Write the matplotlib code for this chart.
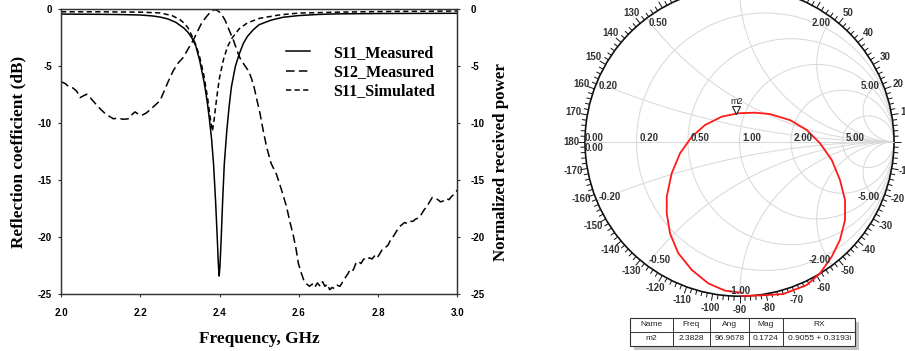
import numpy as np
import matplotlib
matplotlib.use("Agg")
import matplotlib.pyplot as plt
from matplotlib.patches import Circle, Rectangle
from matplotlib.collections import LineCollection
from matplotlib.transforms import offset_copy

plt.rcParams['axes.unicode_minus'] = False

# ---- left panel data ----
f_s11m = [2.00, 2.05, 2.10, 2.15, 2.20, 2.23, 2.25, 2.27, 2.29, 2.31, 2.32, 2.33, 2.34,
          2.35, 2.36, 2.365, 2.37, 2.375, 2.38, 2.385, 2.39, 2.394, 2.397, 2.399, 2.401,
          2.404, 2.408, 2.412, 2.418, 2.424, 2.43, 2.44, 2.45, 2.46, 2.47, 2.485, 2.50,
          2.53, 2.56, 2.60, 2.65, 2.70, 2.80, 2.90, 3.00]
s11_meas = [-0.42, -0.43, -0.44, -0.46, -0.5, -0.58, -0.68, -0.85, -1.15, -1.65, -2.0,
            -2.5, -3.2, -4.5, -6.2, -7.2, -8.4, -9.8, -11.4, -13.6, -16.8, -19.8, -22.3,
            -23.4, -22.6, -20.3, -16.7, -13.6, -10.8, -8.6, -6.8, -5.0, -3.9, -3.0, -2.4,
            -1.8, -1.35, -0.95, -0.7, -0.55, -0.45, -0.4, -0.37, -0.36, -0.35]

f_s11s = [2.00, 2.10, 2.20, 2.25, 2.28, 2.30, 2.31, 2.32, 2.33, 2.34, 2.35, 2.36, 2.37,
          2.376, 2.382, 2.386, 2.39, 2.395, 2.40, 2.41, 2.42, 2.43, 2.45, 2.47, 2.50,
          2.55, 2.60, 2.70, 2.80, 3.00]
s11_sim = [-0.22, -0.22, -0.25, -0.32, -0.55, -0.9, -1.2, -1.6, -2.3, -3.1, -4.2, -5.7,
           -7.8, -9.4, -10.7, -9.8, -8.6, -7.2, -6.0, -4.4, -3.3, -2.6, -1.7, -1.2, -0.8,
           -0.5, -0.33, -0.25, -0.2, -0.15]

f_s12m = [2.000, 2.010, 2.020, 2.030, 2.040, 2.048, 2.056, 2.065, 2.075, 2.085, 2.098,
          2.110, 2.120, 2.132, 2.145, 2.157, 2.170, 2.180, 2.187, 2.195, 2.204, 2.215,
          2.225, 2.238, 2.250, 2.260, 2.271, 2.283, 2.296, 2.309, 2.322, 2.334, 2.345,
          2.355, 2.368, 2.378, 2.386, 2.392, 2.400, 2.407, 2.414, 2.424, 2.435, 2.445,
          2.452, 2.463, 2.473, 2.480, 2.487, 2.494, 2.502, 2.510, 2.519, 2.530, 2.544,
          2.556, 2.569, 2.578, 2.586, 2.593, 2.599, 2.606, 2.613, 2.620, 2.627, 2.634,
          2.640, 2.647, 2.654, 2.660, 2.666, 2.672, 2.678, 2.684, 2.690, 2.697, 2.704,
          2.711, 2.718, 2.724, 2.730, 2.737, 2.744, 2.750, 2.757, 2.764, 2.771, 2.778,
          2.785, 2.792, 2.798, 2.805, 2.812, 2.818, 2.825, 2.832, 2.839, 2.846, 2.853,
          2.860, 2.867, 2.874, 2.881, 2.888, 2.895, 2.902, 2.909, 2.916, 2.923, 2.930,
          2.937, 2.944, 2.951, 2.958, 2.965, 2.972, 2.979, 2.986, 2.993, 3.000]
s12_meas = [-6.35, -6.5, -6.8, -6.9, -7.2, -7.75, -7.6, -7.45, -7.8, -8.2, -8.7,
            -9.1, -9.35, -9.6, -9.55, -9.65, -9.6, -9.2, -9.0, -9.2, -9.3, -9.1,
            -8.8, -8.4, -8.0, -7.2, -6.3, -5.4, -4.7, -4.2, -3.4, -2.7, -1.9,
            -1.2, -0.6, -0.2, -0.05, -0.05, -0.25, -0.55, -0.95, -1.8, -2.7, -3.7,
            -4.3, -4.9, -5.4, -6.0, -6.8, -7.9, -9.1, -10.6, -12.1, -13.5, -14.5,
            -15.8, -17.3, -18.7, -19.8, -21.0, -22.3, -23.1, -23.8, -24.1, -24.3, -24.1,
            -24.4, -24.0, -24.3, -23.9, -24.3, -24.1, -24.6, -24.4, -24.5, -24.2, -24.3,
            -23.9, -23.5, -23.2, -22.8, -22.9, -22.3, -22.1, -22.3, -21.9, -22.0, -21.8,
            -21.9, -21.6, -21.8, -21.4, -21.0, -20.9, -20.7, -20.2, -19.9, -19.5, -19.1,
            -18.9, -18.7, -18.8, -18.6, -18.6, -18.4, -18.3, -18.0, -17.6, -17.3, -16.9,
            -16.5, -16.6, -16.7, -16.9, -16.8, -16.6, -16.7, -16.4, -16.2, -15.85]

y_ticks = [0, -5, -10, -15, -20, -25]
x_ticks = [2.0, 2.2, 2.4, 2.6, 2.8, 3.0]

# ---- Smith chart data ----
smith_re = [0.014, 0.133, 0.282, 0.435, 0.521, 0.597, 0.650, 0.683, 0.683, 0.650, 0.597,
            0.521, 0.435, 0.327, 0.197, 0.100, -0.008, -0.115, -0.223, -0.309, -0.385,
            -0.439, -0.471, -0.471, -0.450, -0.396, -0.309, -0.202, -0.094, 0.014]
smith_im = [-0.998, -0.995, -0.986, -0.928, -0.852, -0.744, -0.636, -0.507, -0.377, -0.247,
            -0.118, -0.010, 0.076, 0.140, 0.179, 0.188, 0.184, 0.162, 0.108, 0.032, -0.075,
            -0.205, -0.356, -0.463, -0.593, -0.722, -0.830, -0.917, -0.964, -0.977]
r_circles = [0.2, 0.5, 1.0, 2.0, 5.0]
x_arcs = [0.2, 0.5, 1.0, 2.0, 5.0]
marker_mag = 0.1724
marker_ang = 96.9678
tbl_cols = ['Name', 'Freq', 'Ang', 'Mag', 'RX']
tbl_vals = ['m2', '2.3828', '96.9678', '0.1724', '0.9055 + 0.3193i']

SERIF = 'Liberation Serif'
SANS = 'Liberation Sans'
W, H = 905, 351

fig = plt.figure(figsize=(W / 100, H / 100), dpi=100)

# ---------------- left panel ----------------
ax = fig.add_axes([61 / W, 1 - 294.3 / H, 396.3 / W, 285 / H])
lw = 1.1
ax.plot(f_s11m, s11_meas, color='black', lw=lw, label='S11_Measured')
ax.plot(f_s12m, s12_meas, color='black', lw=lw, ls=(0, (5.6, 2.8)), label='S12_Measured')
ax.plot(f_s11s, s11_sim, color='black', lw=lw, ls=(0, (3.4, 2.2)), label='S11_Simulated')
ax.set_xlim(2.0, 3.0)
ax.set_ylim(-25, 0)
ax.set_xticks(x_ticks)
ax.set_xticklabels(['%.1f' % v for v in x_ticks])
ax.set_yticks(y_ticks)
ax.set_yticklabels([str(v) for v in y_ticks])

ax2 = ax.twinx()
ax2.set_ylim(-25, 0)
ax2.set_yticks(y_ticks)
ax2.set_yticklabels([str(v) for v in y_ticks])

for a in (ax, ax2):
    for sp in a.spines.values():
        sp.set_color('#333333')
        sp.set_linewidth(0.9)
    a.tick_params(direction='out', length=2.5, width=0.8, color='#333333',
                  labelsize=7)
    for lab in a.get_xticklabels() + a.get_yticklabels():
        lab.set_fontfamily(SANS)
        lab.set_fontweight('bold')
ax.tick_params(axis='x', pad=7.5)
ax.tick_params(axis='y', pad=4)
ax2.tick_params(axis='y', pad=7)

leg = ax.legend(loc='upper left', bbox_to_anchor=(0.568, 0.875), frameon=False,
                borderpad=0, borderaxespad=0, handlelength=1.5, handletextpad=1.45,
                labelspacing=0.2, prop={'family': SERIF, 'weight': 'bold', 'size': 11.5})

fig.text(259.5 / W, 1 - 339 / H, 'Frequency, GHz', ha='center', va='center',
         family=SERIF, weight='bold', size=12.4)
fig.text(18.5 / W, 1 - 151.7 / H, 'Reflection coefficient (dB)', ha='center',
         va='center', rotation=90, family=SERIF, weight='bold', size=12.4)
fig.text(501 / W, 1 - 161.7 / H, 'Normalized received power', ha='center',
         va='center', rotation=90, family=SERIF, weight='bold', size=12.2)

# ---------------- Smith chart ----------------
cx, cy, R = 739.5, 141.7, 154.5
sx = fig.add_axes([560 / W, 0, 345 / W, 1])
sx.set_xlim((560 - cx) / R, (905 - cx) / R)
sx.set_ylim((cy - 351) / R, cy / R)
sx.axis('off')

grid_c = '#d9d9d9'
unit = Circle((0, 0), 1, transform=sx.transData)
for r in r_circles:
    sx.add_patch(Circle((r / (1 + r), 0), 1 / (1 + r), fill=False, ec=grid_c, lw=0.75))
for xv in x_arcs:
    for s in (1, -1):
        c = Circle((1, s / xv), 1 / xv, fill=False, ec=grid_c, lw=0.75)
        sx.add_patch(c)
        c.set_clip_path(unit)
sx.plot([-1, 1], [0, 0], color=grid_c, lw=0.75)

sx.add_patch(Circle((0, 0), 1, fill=False, ec='#111111', lw=1.2))
segs = []
for a in range(-180, 180, 2):
    t = np.deg2rad(a)
    ln = 0.045 if a % 10 == 0 else 0.03
    segs.append([(np.cos(t), np.sin(t)), ((1 + ln) * np.cos(t), (1 + ln) * np.sin(t))])
sx.add_collection(LineCollection(segs, colors='#111111', linewidths=0.7))

lab_kw = dict(family=SANS, weight='bold', size=7, color='#333333')
for a in range(-170, 190, 10):
    t = np.deg2rad(a)
    sx.text(1.09 * np.cos(t), 1.09 * np.sin(t), str(a), ha='center', va='center',
            clip_on=False, **lab_kw)

sx.text(-1.0, 0.026, '0.00', ha='left', va='center', **lab_kw)
sx.text(-1.0, -0.04, '0.00', ha='left', va='center', **lab_kw)
for r in r_circles:
    sx.text((r - 1) / (r + 1) + 0.02, 0.026, '%.2f' % r, ha='left', va='center', **lab_kw)

for xv in x_arcs:
    for s in (1, -1):
        th = s * (np.pi - 2 * np.arctan(xv))
        px, py = 0.985 * np.cos(th), 0.985 * np.sin(th) - s * 0.02
        ha = 'left' if xv < 1 else ('right' if xv > 1 else 'center')
        txt = '%.2f' % xv if s > 0 else '-%.2f' % xv
        sx.text(px, py, txt, ha=ha, va='center', **lab_kw)

sx.plot(smith_re, smith_im, color='#ff1a1a', lw=1.3, solid_joinstyle='round')

mt = np.deg2rad(marker_ang)
mx, my = marker_mag * np.cos(mt), marker_mag * np.sin(mt)
sx.plot([mx], [my], marker='v', ms=6, mfc='white', mec='#222222', mew=0.8,
        transform=offset_copy(sx.transData, fig=fig, x=0, y=3.5, units='points'))
sx.text(mx, my, 'm2', ha='center', va='bottom', family=SANS, size=6.5, color='#222222',
        transform=offset_copy(sx.transData, fig=fig, x=0, y=6.5, units='points'))

# ---------------- marker table ----------------
tx = fig.add_axes([0, 0, 1, 1])
tx.set_xlim(0, W)
tx.set_ylim(H, 0)
tx.axis('off')
col_x = [630, 672.7, 710, 748.5, 783.3, 855]
top, mid, bot = 317.5, 331.7, 345.5
tx.add_patch(Rectangle((col_x[0] + 4, top + 4), col_x[-1] - col_x[0], bot - top,
                       fc='#c4c4c4', ec='none'))
tx.add_patch(Rectangle((col_x[0], top), col_x[-1] - col_x[0], bot - top,
                       fc='white', ec='#333333', lw=0.8))
tx.plot([col_x[0], col_x[-1]], [mid, mid], color='#333333', lw=0.7)
for xv in col_x[1:-1]:
    tx.plot([xv, xv], [top, bot], color='#333333', lw=0.7)
for i in range(len(tbl_cols)):
    xc = (col_x[i] + col_x[i + 1]) / 2
    tx.text(xc, (top + mid) / 2, tbl_cols[i], ha='center', va='center',
            family=SANS, size=6, color='#222222')
    tx.text(xc, (mid + bot) / 2, tbl_vals[i], ha='center', va='center',
            family=SANS, size=6, color='#222222')

fig.savefig('out.png', dpi=100)
